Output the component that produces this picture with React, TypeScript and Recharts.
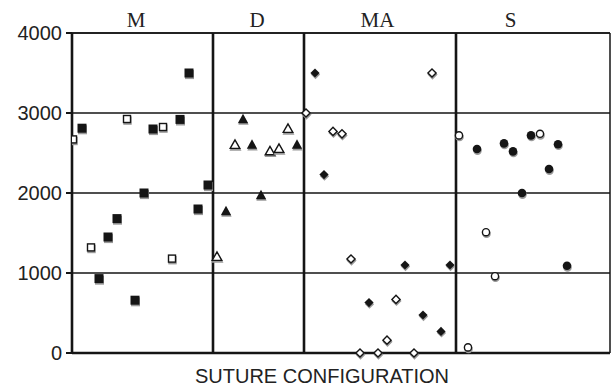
import React from "react";
import {
  ScatterChart,
  Scatter,
  XAxis,
  YAxis,
  CartesianGrid,
  ReferenceLine,
} from "recharts";

// x = position along the suture-configuration axis (arbitrary units), y = value
const mFilled = [
  { x: 10, y: 2810 }, { x: 27, y: 930 }, { x: 36, y: 1450 }, { x: 45, y: 1680 },
  { x: 63, y: 660 }, { x: 72, y: 2000 }, { x: 81, y: 2800 }, { x: 108, y: 2920 },
  { x: 117, y: 3500 }, { x: 126, y: 1800 }, { x: 136, y: 2100 },
];
const mOpen = [
  { x: 1, y: 2670 }, { x: 19, y: 1320 }, { x: 55, y: 2925 }, { x: 91, y: 2825 }, { x: 100, y: 1180 },
];
const dFilled = [
  { x: 154, y: 1770 }, { x: 171, y: 2920 }, { x: 180, y: 2600 }, { x: 189, y: 1970 }, { x: 225, y: 2600 },
];
const dOpen = [
  { x: 145, y: 1200 }, { x: 163, y: 2600 }, { x: 198, y: 2520 }, { x: 207, y: 2550 }, { x: 216, y: 2800 },
];
const maFilled = [
  { x: 243, y: 3500 }, { x: 252, y: 2230 }, { x: 297, y: 630 }, { x: 333, y: 1100 },
  { x: 351, y: 475 }, { x: 369, y: 270 }, { x: 378, y: 1100 },
];
const maOpen = [
  { x: 234, y: 3000 }, { x: 261, y: 2770 }, { x: 270, y: 2740 }, { x: 279, y: 1175 },
  { x: 288, y: 0 }, { x: 306, y: 0 }, { x: 315, y: 160 }, { x: 324, y: 670 },
  { x: 342, y: 0 }, { x: 360, y: 3500 },
];
const sFilled = [
  { x: 405, y: 2550 }, { x: 432, y: 2620 }, { x: 441, y: 2520 }, { x: 450, y: 2000 },
  { x: 459, y: 2720 }, { x: 477, y: 2300 }, { x: 486, y: 2610 }, { x: 495, y: 1090 },
];
const sOpen = [
  { x: 387, y: 2720 }, { x: 396, y: 70 }, { x: 414, y: 1510 }, { x: 423, y: 960 }, { x: 468, y: 2740 },
];

const categoryLabels = ["M", "D", "MA", "S"];
const categoryLabelPos = [64, 185, 305.5, 438.5];
const dividers = [141, 232, 384];
const xMax = 538;
const yTicks = [0, 1000, 2000, 3000, 4000];

const INK = "#151515";
const SHADOW = "#9a9a9a";

type Kind = "square" | "triangle" | "diamond" | "circle";

function drawMark(kind: Kind, filled: boolean, cx: number, cy: number, fill: string, stroke: string) {
  const sw = filled ? 0 : 1.4;
  if (kind === "square") {
    const s = filled ? 9 : 7;
    return <rect x={cx - s / 2} y={cy - s / 2} width={s} height={s} fill={fill} stroke={stroke} strokeWidth={sw} />;
  }
  if (kind === "triangle") {
    const w = filled ? 5.2 : 4.8;
    const h = filled ? 9.5 : 8.5;
    const pts = `${cx},${cy - h * 0.6} ${cx - w},${cy + h * 0.4} ${cx + w},${cy + h * 0.4}`;
    return <polygon points={pts} fill={fill} stroke={stroke} strokeWidth={sw} strokeLinejoin="miter" />;
  }
  if (kind === "diamond") {
    const r = filled ? 4.6 : 4.1;
    const pts = `${cx},${cy - r} ${cx + r},${cy} ${cx},${cy + r} ${cx - r},${cy}`;
    return <polygon points={pts} fill={fill} stroke={stroke} strokeWidth={sw} />;
  }
  const r = filled ? 4.3 : 3.6;
  return <circle cx={cx} cy={cy} r={r} fill={fill} stroke={stroke} strokeWidth={sw} />;
}

const makeShape = (kind: Kind, filled: boolean) => (props: any) => {
  const { cx, cy } = props;
  if (cx == null || cy == null) return <g />;
  return (
    <g>
      {drawMark(kind, filled, cx + 0.5, cy + 1.6, SHADOW, SHADOW)}
      {drawMark(kind, filled, cx, cy, filled ? INK : "#ffffff", INK)}
    </g>
  );
};

export default function App() {
  return (
    <div style={{ position: "absolute", left: 0, top: 0, background: "#fff" }}>
      <ScatterChart width={611} height={388} margin={{ top: 0, right: 1, bottom: 0, left: 0 }}>
        <CartesianGrid vertical={false} stroke={INK} strokeWidth={1.3} />
        <XAxis
          type="number"
          dataKey="x"
          domain={[0, xMax]}
          allowDataOverflow
          tick={false}
          tickLine={false}
          axisLine={{ stroke: INK, strokeWidth: 2.6 }}
          height={35}
          label={{
            value: "SUTURE CONFIGURATION",
            position: "insideBottom",
            offset: 5,
            dx: -19,
            style: { fontFamily: "'Liberation Sans', Arial, sans-serif", fontSize: 20, fill: "#222" },
          }}
        />
        <XAxis
          xAxisId="top"
          orientation="top"
          type="number"
          dataKey="x"
          domain={[0, xMax]}
          allowDataOverflow
          ticks={categoryLabelPos}
          interval={0}
          tickFormatter={(v: number) => categoryLabels[categoryLabelPos.indexOf(v)] ?? ""}
          tickLine={false}
          tickSize={0}
          tickMargin={6}
          axisLine={{ stroke: INK, strokeWidth: 1.5 }}
          height={33}
          tick={{ fontFamily: "'Liberation Serif', 'Times New Roman', serif", fontSize: 21, fill: "#222" }}
        />
        <YAxis
          type="number"
          dataKey="y"
          domain={[0, 4000]}
          ticks={yTicks}
          interval={0}
          width={72}
          tickSize={6}
          tickMargin={4}
          tickLine={{ stroke: INK, strokeWidth: 2 }}
          axisLine={{ stroke: INK, strokeWidth: 2.6 }}
          tick={{ fontFamily: "'Liberation Sans', Arial, sans-serif", fontSize: 20, fill: "#222" }}
        />
        {dividers.map((d) => (
          <ReferenceLine key={d} x={d} stroke={INK} strokeWidth={2.6} />
        ))}
        <ReferenceLine x={xMax} stroke={INK} strokeWidth={1.5} />
        <Scatter data={mFilled} shape={makeShape("square", true)} isAnimationActive={false} />
        <Scatter data={mOpen} shape={makeShape("square", false)} isAnimationActive={false} />
        <Scatter data={dFilled} shape={makeShape("triangle", true)} isAnimationActive={false} />
        <Scatter data={dOpen} shape={makeShape("triangle", false)} isAnimationActive={false} />
        <Scatter data={maFilled} shape={makeShape("diamond", true)} isAnimationActive={false} />
        <Scatter data={maOpen} shape={makeShape("diamond", false)} isAnimationActive={false} />
        <Scatter data={sFilled} shape={makeShape("circle", true)} isAnimationActive={false} />
        <Scatter data={sOpen} shape={makeShape("circle", false)} isAnimationActive={false} />
      </ScatterChart>
    </div>
  );
}
